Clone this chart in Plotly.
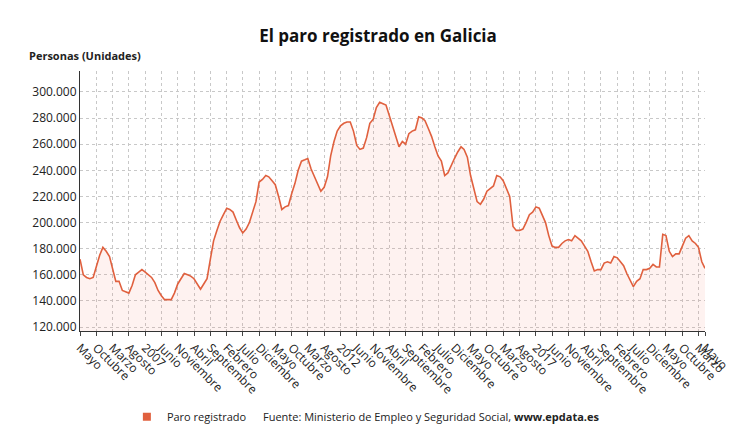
import pandas as pd
import plotly.graph_objects as go

# Monthly registered unemployment in Galicia, May 2005 - May 2021 (thousands)
paro_miles = [
    172, 160, 158, 157, 158, 166, 175, 181, 178, 174, 165, 155,
    155, 148, 147, 146, 152, 160, 162, 164, 162, 160, 158, 154,
    148, 144, 141, 141, 141, 146, 153, 157, 161, 160, 159, 157,
    153, 149, 153, 157, 172, 186, 194, 201, 206, 211, 210, 208,
    202, 196, 192, 195, 200, 208, 216, 231, 233, 236, 235, 232,
    229, 220, 210, 212, 213, 222, 230, 240, 247, 248, 249, 241,
    235, 230, 224, 227, 235, 251, 262, 270, 274, 276, 277, 277,
    270, 259, 256, 257, 265, 276, 279, 288, 292, 291, 290, 282,
    274, 265, 258, 262, 260, 268, 270, 271, 281, 280, 278, 272,
    266, 258, 251, 247, 236, 238, 244, 249, 254, 258, 256, 250,
    236, 226, 216, 214, 218, 224, 226, 228, 236, 235, 232, 226,
    220, 197, 194, 194, 195, 200, 206, 208, 212, 211, 206, 200,
    190, 182, 181, 181, 184, 186, 187, 186, 190, 188, 186, 182,
    178, 170, 163, 164, 164, 169, 170, 169, 174, 173, 170, 167,
    161, 156, 151, 155, 157, 164, 164, 165, 168, 166, 166, 191,
    190, 178, 174, 176, 176, 182, 188, 190, 186, 184, 181, 170,
    165,
]
paro = [v * 1000 for v in paro_miles]
fechas = pd.date_range("2005-05-01", periods=len(paro), freq="MS")

meses = ["Enero", "Febrero", "Marzo", "Abril", "Mayo", "Junio", "Julio",
         "Agosto", "Septiembre", "Octubre", "Noviembre", "Diciembre"]
tick_fechas = list(fechas[::5]) + [fechas[-1]]
tick_textos = [str(d.year) if d.month == 1 else meses[d.month - 1] for d in tick_fechas]

color = "#e0603e"

fig = go.Figure()
fig.add_trace(go.Scatter(
    x=fechas, y=paro, mode="lines", showlegend=False,
    line=dict(color=color, width=1.6),
    fill="tozeroy", fillcolor="rgba(240,110,90,0.09)",
))
# legend-only square marker
fig.add_trace(go.Scatter(
    x=[None], y=[None], mode="markers", name="Paro registrado",
    marker=dict(symbol="square", size=8, color=color),
))

fig.update_layout(
    width=740, height=435,
    margin=dict(l=72, r=43, t=63, b=112),
    paper_bgcolor="white", plot_bgcolor="white",
    font=dict(family="Open Sans", size=12, color="#222"),
    separators=",.",
    title=dict(text="<b>El paro registrado en Galicia</b>", x=0.5, y=0.935,
               xanchor="center", yanchor="middle", font=dict(size=17, color="#111")),
    legend=dict(orientation="h", x=0.075, y=-0.33, xanchor="left", yanchor="middle",
                font=dict(size=11), itemwidth=30),
    showlegend=True,
)
fig.update_xaxes(
    range=[fechas[0], fechas[-1]],
    tickvals=tick_fechas, ticktext=tick_textos, tickangle=45,
    showgrid=True, gridcolor="#c8c8c8", griddash="dot",
    showline=True, linecolor="#333", ticks="outside", ticklen=4,
    tickfont=dict(size=12),
)
fig.update_yaxes(
    range=[117000, 316000], tickvals=list(range(120000, 300001, 20000)),
    tickformat=",d",
    showgrid=True, gridcolor="#c8c8c8", griddash="dot",
    showline=True, linecolor="#333", zeroline=False,
    tickfont=dict(size=12),
)
fig.add_annotation(text="<b>Personas (Unidades)</b>", xref="paper", yref="paper",
                   x=-0.085, y=1.025, xanchor="left", yanchor="bottom", showarrow=False,
                   font=dict(size=11))
fig.add_annotation(text="Fuente: Ministerio de Empleo y Seguridad Social, <b>www.epdata.es</b>",
                   xref="paper", yref="paper", x=0.29, y=-0.33, xanchor="left",
                   yanchor="middle", showarrow=False, font=dict(size=11))

fig.write_html("out.html")
